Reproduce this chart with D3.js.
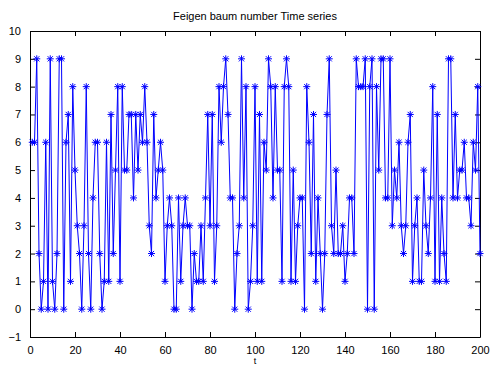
<!DOCTYPE html>
<html><head><meta charset="utf-8">
<script src="https://cdn.jsdelivr.net/npm/d3@7"></script>
<style>
body{margin:0;background:#fff;}
svg{display:block;}
text{font-family:"Liberation Sans",Arial,sans-serif;fill:#000;}
</style></head>
<body><svg id="c" width="491" height="365"></svg>
<script>
const title = "Feigen baum number Time series";
const xLabel = "t";
const xTicks = [0,20,40,60,80,100,120,140,160,180,200];
const yTicks = [-1,0,1,2,3,4,5,6,7,8,9,10];
// digits of the Feigenbaum number, t = 1..200
const values = [
6,6,9,2,0,1,6,0,9,1, 0,2,9,9,0,6,7,1,8,5, 3,2,0,3,8,2,0,4,6,6, 2,0,1,6,1,7,2,5,8,1,
8,5,5,7,7,4,7,5,7,6, 8,6,3,2,7,4,5,6,5,1, 3,4,3,0,0,4,1,3,4,3, 3,0,2,1,1,3,1,4,7,3,
7,1,3,8,6,8,9,7,4,4, 0,2,3,9,4,8,0,1,3,8, 1,7,1,6,5,9,8,4,8,5, 5,1,8,9,8,1,5,1,3,4,
4,0,8,6,2,7,1,4,2,0, 2,7,9,3,2,5,2,2,3,1, 2,4,4,2,9,8,8,8,9,0, 8,9,0,8,5,9,9,4,4,9,
3,5,4,6,3,2,3,6,7,1, 3,4,1,1,5,3,2,4,8,1, 7,1,4,2,1,9,9,4,7,4, 5,5,6,4,4,3,6,5,8,2
];
const tValues = values.map((v,i)=>i+1);

const L=30,R=480,T=31,B=337;
const svg=d3.select("#c");
const x=d3.scaleLinear().domain([0,200]).range([L,R]);
const y=d3.scaleLinear().domain([-1,10]).range([B,T]);

svg.append("rect").attr("x",L).attr("y",T).attr("width",R-L).attr("height",B-T)
  .attr("fill","#fff").attr("stroke","none");

const tk=5;
const gBottom=svg.append("g").attr("transform",`translate(0,${B})`)
  .call(d3.axisBottom(x).tickValues(xTicks).tickSizeInner(-tk).tickSizeOuter(0).tickPadding(tk+4));
const gTop=svg.append("g").attr("transform",`translate(0,${T})`)
  .call(d3.axisTop(x).tickValues(xTicks).tickSizeInner(-tk).tickSizeOuter(0).tickFormat(""));
const gLeft=svg.append("g").attr("transform",`translate(${L},0)`)
  .call(d3.axisLeft(y).tickValues(yTicks).tickSizeInner(-tk).tickSizeOuter(0).tickPadding(tk+4));
const gRight=svg.append("g").attr("transform",`translate(${R},0)`)
  .call(d3.axisRight(y).tickValues(yTicks).tickSizeInner(-tk).tickSizeOuter(0).tickFormat(""));
[gBottom,gTop,gLeft,gRight].forEach(g=>{
  g.select(".domain").attr("stroke","#000").attr("stroke-width",1);
  g.selectAll(".tick line").attr("stroke","#000").attr("stroke-width",1);
  g.selectAll("text").attr("font-size",11).style("font-family","'Liberation Sans',Arial,sans-serif").attr("fill","#000");
});

const pts=values.map((v,i)=>[tValues[i],v]);
svg.append("path").datum(pts)
  .attr("fill","none").attr("stroke","#0000ff").attr("stroke-width",1)
  .attr("d",d3.line().x(d=>x(d[0])).y(d=>y(d[1])));

const s=3.5, dg=2.6;
const mk=svg.append("g").attr("stroke","#0000ff").attr("stroke-width",1).attr("fill","none");
mk.selectAll("path").data(pts).join("path")
  .attr("transform",d=>`translate(${x(d[0])},${y(d[1])})`)
  .attr("d",`M${-s},0H${s}M0,${-s}V${s}M${-dg},${-dg}L${dg},${dg}M${-dg},${dg}L${dg},${-dg}`);

svg.append("text").attr("x",(L+R)/2).attr("y",20).attr("text-anchor","middle")
  .attr("font-size",11).text(title);
svg.append("text").attr("x",(L+R)/2).attr("y",364).attr("text-anchor","middle")
  .attr("font-size",9).text(xLabel);
</script></body></html>
